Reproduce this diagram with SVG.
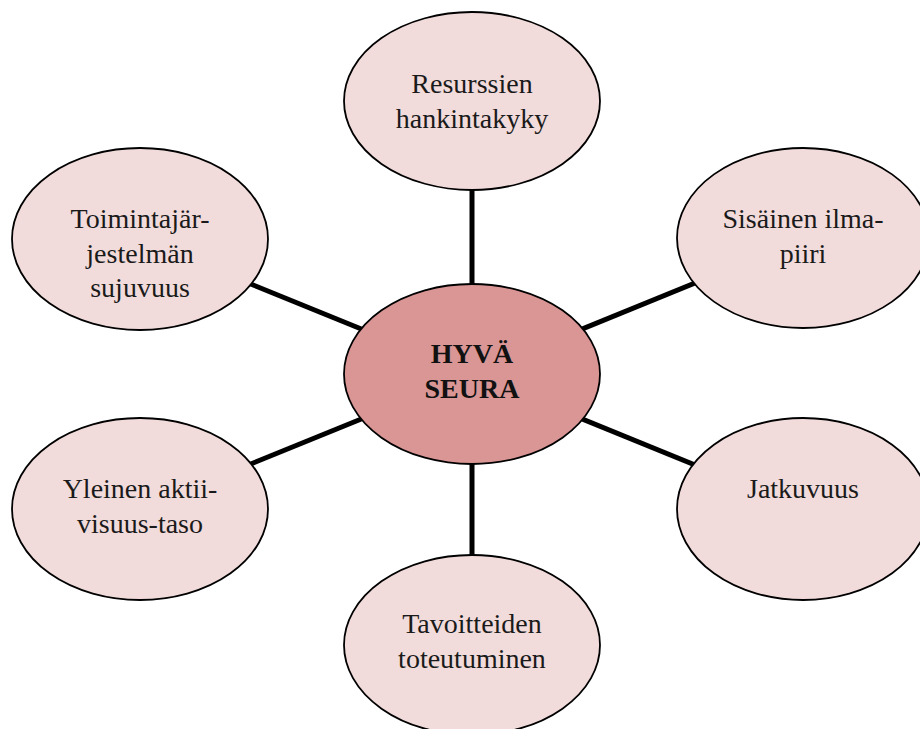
<svg xmlns="http://www.w3.org/2000/svg" width="920" height="729" viewBox="0 0 920 729">
<style>
.n{fill:#f2dcdb;stroke:#000;stroke-width:1.8}
.c{fill:#d99694;stroke:#000;stroke-width:1.8}
.t{font-family:"Liberation Serif","DejaVu Serif",serif;font-size:28px;fill:#1a1a1a;text-anchor:middle}
.b{font-family:"Liberation Serif","DejaVu Serif",serif;font-size:28px;font-weight:bold;fill:#111;text-anchor:middle}
.l{stroke:#000;stroke-width:5;fill:none}
</style>
<rect width="920" height="729" fill="#fff"/>
<g id="connectors">
<line class="l" x1="472" y1="374" x2="472" y2="101"/>
<line class="l" x1="472" y1="374" x2="472" y2="645"/>
<line class="l" x1="472" y1="374" x2="140" y2="239"/>
<line class="l" x1="472" y1="374" x2="803" y2="239"/>
<line class="l" x1="472" y1="374" x2="140" y2="509"/>
<line class="l" x1="472" y1="374" x2="803" y2="509"/>
</g>
<g id="node-top">
<ellipse class="n" cx="472" cy="101" rx="128" ry="89"/>
<text class="t" x="472" y="93">Resurssien</text>
<text class="t" x="472" y="128">hankintakyky</text>
</g>
<g id="node-topleft">
<ellipse class="n" cx="140" cy="239" rx="128" ry="91"/>
<text class="t" x="140" y="228">Toimintajär-</text>
<text class="t" x="140" y="263">jestelmän</text>
<text class="t" x="140" y="297">sujuvuus</text>
</g>
<g id="node-topright">
<ellipse class="n" cx="803" cy="238" rx="126" ry="90"/>
<text class="t" x="803" y="228">Sisäinen ilma-</text>
<text class="t" x="803" y="263">piiri</text>
</g>
<g id="node-center">
<ellipse class="c" cx="472" cy="374" rx="128" ry="90"/>
<text class="b" x="472" y="363">HYVÄ</text>
<text class="b" x="472" y="398">SEURA</text>
</g>
<g id="node-bottomleft">
<ellipse class="n" cx="140" cy="509" rx="128" ry="91"/>
<text class="t" x="140" y="498">Yleinen aktii-</text>
<text class="t" x="140" y="533">visuus-taso</text>
</g>
<g id="node-bottomright">
<ellipse class="n" cx="803" cy="509" rx="126" ry="91"/>
<text class="t" x="803" y="498">Jatkuvuus</text>
</g>
<g id="node-bottom">
<ellipse class="n" cx="472" cy="645" rx="128" ry="90"/>
<text class="t" x="472" y="633">Tavoitteiden</text>
<text class="t" x="472" y="668">toteutuminen</text>
</g>
</svg>
